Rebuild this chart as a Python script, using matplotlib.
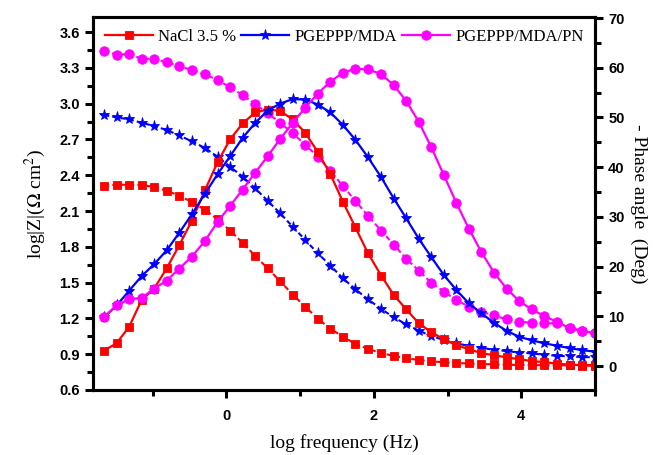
import numpy as np
import matplotlib
matplotlib.use("Agg")
import matplotlib.pyplot as plt
from matplotlib.ticker import MultipleLocator

plt.rcParams["mathtext.fontset"] = "stix"

# log frequency (Hz) of the measured points
log_f = [-1.66, -1.49, -1.32, -1.15, -0.98, -0.81, -0.64, -0.47, -0.29, -0.12,
         0.05, 0.22, 0.39, 0.56, 0.73, 0.90, 1.07, 1.24, 1.41, 1.58,
         1.75, 1.92, 2.10, 2.27, 2.44, 2.61, 2.78, 2.95, 3.12, 3.29,
         3.46, 3.63, 3.80, 3.97, 4.14, 4.31, 4.48, 4.66, 4.83, 5.00]

# log|Z| values (left axis)
z_nacl = [2.31, 2.32, 2.32, 2.32, 2.30, 2.27, 2.23, 2.175, 2.11, 2.03,
          1.935, 1.834, 1.723, 1.62, 1.511, 1.399, 1.298, 1.197, 1.114, 1.047,
          0.986, 0.944, 0.910, 0.885, 0.866, 0.851, 0.840, 0.832, 0.826, 0.822,
          0.818, 0.815, 0.812, 0.809, 0.809, 0.807, 0.807, 0.806, 0.804, 0.803]
z_mda = [2.904, 2.885, 2.868, 2.840, 2.812, 2.779, 2.734, 2.684, 2.628, 2.555,
         2.471, 2.388, 2.290, 2.185, 2.08, 1.968, 1.857, 1.745, 1.643, 1.536,
         1.444, 1.360, 1.279, 1.209, 1.150, 1.097, 1.052, 1.019, 0.991, 0.969,
         0.955, 0.935, 0.927, 0.913, 0.907, 0.895, 0.887, 0.881, 0.876, 0.874]
z_pn = [3.443, 3.41, 3.416, 3.376, 3.376, 3.346, 3.315, 3.281, 3.245, 3.198,
        3.137, 3.072, 2.997, 2.919, 2.840, 2.751, 2.656, 2.555, 2.438, 2.31,
        2.184, 2.061, 1.935, 1.818, 1.700, 1.600, 1.499, 1.424, 1.354, 1.298,
        1.256, 1.225, 1.192, 1.172, 1.164, 1.160, 1.158, 1.117, 1.097, 1.075]

# -phase angle (deg) values (right axis)
p_nacl = [3.1, 4.6, 7.9, 13.3, 15.6, 19.65, 24.3, 29.2, 35.4, 41.0,
          45.6, 48.8, 51.0, 51.6, 51.3, 49.6, 46.9, 43.05, 38.6, 33.05,
          27.9, 22.7, 18.2, 14.3, 11.4, 8.6, 6.8, 5.4, 4.2, 3.4,
          2.6, 2.2, 1.75, 1.4, 1.0, 0.8, 0.5, 0.3, 0.2, 0.2]
p_mda = [9.8, 12.2, 15.15, 18.1, 20.5, 23.3, 26.8, 30.5, 34.7, 38.6,
         42.2, 45.9, 48.9, 51.4, 52.8, 53.7, 53.6, 52.6, 51.0, 48.5,
         45.5, 42.0, 37.96, 33.7, 29.7, 25.6, 21.9, 18.3, 15.3, 12.6,
         10.6, 8.7, 7.1, 5.9, 5.2, 4.6, 4.1, 3.6, 3.2, 2.9]
p_pn = [9.8, 12.2, 13.5, 13.7, 15.6, 17.2, 19.6, 22.0, 25.2, 29.0,
        32.2, 35.5, 38.9, 42.2, 45.7, 48.9, 52.0, 54.8, 57.2, 59.0,
        59.8, 59.7, 58.7, 56.5, 53.3, 49.1, 44.0, 38.4, 32.8, 27.6,
        22.9, 18.8, 15.6, 13.1, 11.4, 10.1, 8.9, 7.6, 7.1, 6.6]

labels = ["NaCl 3.5 %", "PGEPPP/MDA", "PGEPPP/MDA/PN"]
colors = ["#ff0000", "#0000ff", "#ff00ff"]
markers = ["s", "*", "o"]
msizes = [5.8, 8, 6.8]

serif = "Liberation Serif"
sans = "Liberation Sans"

fig = plt.figure(figsize=(6.53, 4.55), dpi=100)
ax = fig.add_axes([0.1424, 0.1429, 0.7688, 0.8197])
ax2 = ax.twinx()

z_all = [z_nacl, z_mda, z_pn]
p_all = [p_nacl, p_mda, p_pn]
handles = []
for z, p, lab, c, m, ms in zip(z_all, p_all, labels, colors, markers, msizes):
    ax.plot(log_f, z, color=c, marker=m, markersize=ms, lw=1.5,
            ls=(0, (2.5, 1.5)), markeredgewidth=0.6)
    h, = ax2.plot(log_f, p, color=c, marker=m, markersize=ms, lw=1.6,
                  ls="-", label=lab, markeredgewidth=0.6)
    handles.append(h)

ax.set_xlim(-1.81, 5.0)
ax.set_ylim(0.6, 3.726)
ax2.set_ylim(-4.8, 70.2)

ax.xaxis.set_major_locator(MultipleLocator(2))
ax.xaxis.set_minor_locator(MultipleLocator(1))
ax.yaxis.set_major_locator(MultipleLocator(0.3))
ax.yaxis.set_minor_locator(MultipleLocator(0.15))
ax2.yaxis.set_major_locator(MultipleLocator(10))
ax2.yaxis.set_minor_locator(MultipleLocator(5))
ax.yaxis.set_major_formatter(matplotlib.ticker.FormatStrFormatter("%.1f"))

for a in (ax, ax2):
    for s in a.spines.values():
        s.set_linewidth(2.2)
    a.tick_params(which="major", direction="out", length=6, width=2.2,
                  labelsize=10.5)
    a.tick_params(which="minor", direction="out", length=4, width=2.2)
    for t in a.get_xticklabels() + a.get_yticklabels():
        t.set_fontfamily(sans)
        t.set_fontweight("bold")
ax.tick_params(axis="x", pad=8)

ax.set_xlabel("log frequency (Hz)", family=serif, fontsize=14, labelpad=8)
ax.set_ylabel(r"log|Z|($\Omega$ cm$^2$)", family=serif, fontsize=14, labelpad=8)
ax2.set_ylabel("- Phase angle  (Deg)", family=serif, fontsize=14,
               rotation=-90, labelpad=16)

leg = ax2.legend(handles=handles, loc="upper center", ncol=3, frameon=False,
                 prop={"family": serif, "size": 12}, handlelength=2.9,
                 handletextpad=0.3, columnspacing=0.3,
                 bbox_to_anchor=(0.5, 1.0), borderaxespad=0.3)

fig.savefig("out.png", dpi=100)
